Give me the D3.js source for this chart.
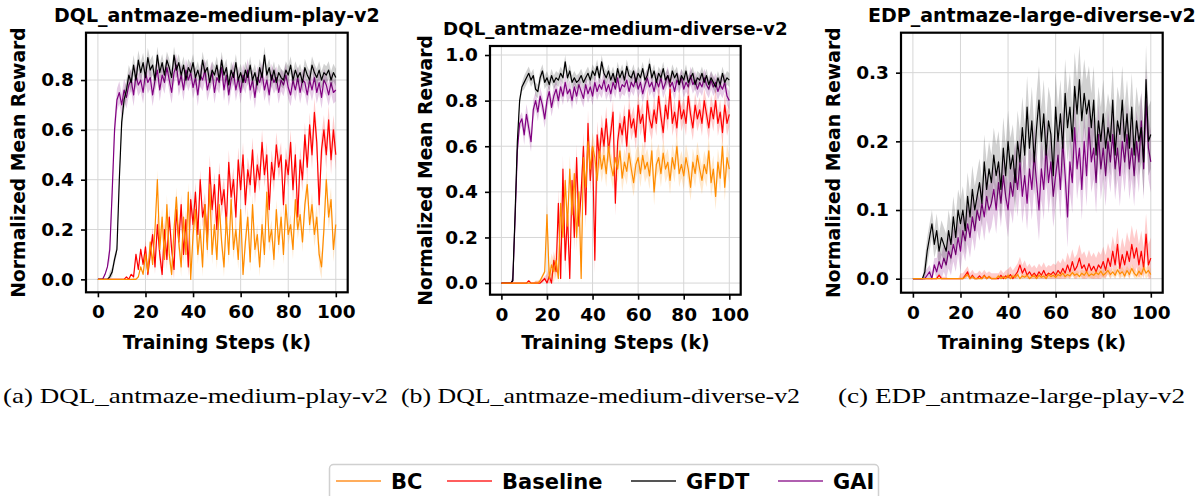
<!DOCTYPE html>
<html>
<head>
<meta charset="utf-8">
<script src="https://cdn.jsdelivr.net/npm/d3@7"></script>
<style>
  html, body { margin: 0; padding: 0; background: #fff; }
  svg { display: block; }
  .bold { font-family: "DejaVu Sans", sans-serif; font-weight: bold; }
</style>
</head>
<body>
<div id="chart"></div>
<script>
// training steps in thousands
const steps = d3.range(0, 101)
const seriesNames = ["BC", "Baseline", "GFDT", "GAI"]
const panelTitles = ["DQL_antmaze-medium-play-v2", "DQL_antmaze-medium-diverse-v2", "EDP_antmaze-large-diverse-v2"]
const captions = ["(a) DQL_antmaze-medium-play-v2", "(b) DQL_antmaze-medium-diverse-v2", "(c) EDP_antmaze-large-play-v2"]
const xTicks = [0, 20, 40, 60, 80, 100]
const yTicks1 = [0, 0.2, 0.4, 0.6, 0.8]
const yTicks2 = [0, 0.2, 0.4, 0.6, 0.8, 1.0]
const yTicks3 = [0, 0.1, 0.2, 0.3]

// ---- panel (a) ----
const p1GAI = [0,0,0,0.02,0.05,0.12,0.35,0.6,0.72,0.75,
  0.7,0.76,0.73,0.78,0.8,0.74,0.82,0.78,0.8,0.75,
  0.83,0.79,0.81,0.74,0.8,0.84,0.76,0.82,0.79,0.85,
  0.8,0.75,0.83,0.86,0.78,0.82,0.76,0.84,0.8,0.83,
  0.77,0.81,0.74,0.82,0.8,0.84,0.76,0.8,0.83,0.75,
  0.81,0.79,0.85,0.76,0.82,0.74,0.8,0.83,0.76,0.81,
  0.75,0.82,0.79,0.84,0.76,0.8,0.73,0.81,0.79,0.83,
  0.76,0.8,0.74,0.82,0.79,0.81,0.75,0.8,0.78,0.82,
  0.77,0.74,0.8,0.76,0.81,0.75,0.8,0.79,0.74,0.8,
  0.76,0.81,0.75,0.79,0.73,0.8,0.78,0.74,0.79,0.75,
  0.76]
const p1GFDT = [0,0,0,0,0,0.01,0.03,0.08,0.12,0.4,
  0.63,0.72,0.76,0.82,0.79,0.86,0.8,0.88,0.83,0.87,
  0.81,0.89,0.84,0.86,0.8,0.9,0.83,0.87,0.82,0.88,
  0.85,0.81,0.9,0.84,0.87,0.82,0.86,0.8,0.85,0.83,
  0.87,0.81,0.84,0.8,0.88,0.83,0.85,0.79,0.84,0.82,
  0.86,0.8,0.88,0.82,0.85,0.78,0.84,0.81,0.87,0.8,
  0.83,0.79,0.84,0.81,0.86,0.8,0.83,0.78,0.85,0.81,
  0.9,0.82,0.85,0.8,0.84,0.79,0.83,0.81,0.8,0.84,
  0.82,0.86,0.8,0.84,0.81,0.83,0.79,0.85,0.82,0.8,
  0.86,0.83,0.81,0.84,0.8,0.83,0.82,0.84,0.8,0.83,
  0.81]
const p1Baseline = [0,0,0,0,0,0,0,0,0,0,
  0,0,0.01,0,0.02,0.01,0.1,0.04,0.12,0.06,
  0.13,0.02,0.1,0.18,0.05,0.22,0.1,0.02,0.2,0.08,
  0.25,0.12,0.04,0.28,0.15,0.3,0.1,0.24,0.05,0.32,
  0.22,0.35,0.18,0.4,0.25,0.3,0.15,0.45,0.28,0.38,
  0.2,0.42,0.3,0.36,0.22,0.47,0.33,0.4,0.25,0.48,
  0.36,0.5,0.3,0.44,0.38,0.52,0.35,0.46,0.4,0.55,
  0.42,0.5,0.28,0.47,0.4,0.54,0.45,0.5,0.3,0.48,
  0.42,0.55,0.36,0.5,0.25,0.48,0.4,0.58,0.45,0.62,
  0.5,0.67,0.55,0.3,0.52,0.6,0.5,0.64,0.48,0.6,
  0.5]
const p1BC = [0,0,0,0,0,0,0,0,0,0,
  0,0,0,0,0,0,0,0.01,0.05,0.02,
  0.1,0.03,0.15,0.06,0.2,0.4,0.12,0.25,0.08,0.3,
  0.1,0.02,0.2,0.33,0.15,0.05,0.25,0.1,0.35,0,
  0.18,0.28,0.1,0.2,0.05,0.3,0.12,0.38,0.1,0.22,
  0.08,0.3,0.15,0.05,0.25,0.1,0.32,0.12,0.2,0.08,
  0.28,0.02,0.15,0.25,0.07,0.3,0.12,0.18,0.05,0.22,
  0.1,0.35,0.15,0.2,0.08,0.28,0.14,0.25,0.1,0.3,
  0.18,0.22,0.12,0.32,0.2,0.26,0.15,0.3,0.38,0.22,
  0.3,0.18,0.25,0.1,0.05,0.2,0.4,0.25,0.32,0.12,
  0.22]
// spread, one value per 5k block
const p1BCStd = [0,0,0,0.005,0.02,0.04,0.04,0.04,0.04,0.04,0.04,0.04,0.04,0.04,0.04,0.04,0.04,0.04,0.05,0.05,0.05]
const p1BaselineStd = [0,0,0,0.01,0.03,0.04,0.04,0.04,0.04,0.05,0.05,0.05,0.05,0.05,0.05,0.05,0.05,0.05,0.06,0.06,0.06]
const p1GFDTStd = [0,0.02,0.04,0.04,0.04,0.035,0.035,0.035,0.035,0.035,0.035,0.035,0.035,0.035,0.035,0.035,0.035,0.035,0.035,0.035,0.035]
const p1GAIStd = [0.005,0.045,0.045,0.045,0.045,0.045,0.045,0.045,0.045,0.045,0.045,0.045,0.045,0.045,0.045,0.045,0.045,0.045,0.045,0.045,0.045]

// ---- panel (b) ----
const p2GFDT = [0,0,0,0,0,0.01,0.3,0.62,0.8,0.86,
  0.88,0.9,0.92,0.89,0.91,0.85,0.84,0.9,0.93,0.88,
  0.9,0.87,0.91,0.88,0.9,0.89,0.92,0.9,0.97,0.9,
  0.93,0.88,0.9,0.88,0.89,0.91,0.88,0.9,0.92,0.89,
  0.93,0.91,0.95,0.9,0.97,0.92,0.9,0.93,0.89,0.92,
  0.88,0.94,0.9,0.93,0.89,0.95,0.91,0.9,0.93,0.88,
  0.92,0.9,0.94,0.89,0.91,0.96,0.9,0.93,0.88,0.92,
  0.9,0.94,0.89,0.91,0.88,0.93,0.9,0.92,0.87,0.91,
  0.89,0.93,0.88,0.9,0.92,0.87,0.9,0.89,0.92,0.88,
  0.91,0.87,0.9,0.88,0.86,0.9,0.87,0.92,0.88,0.9,
  0.89]
const p2GAI = [0,0,0,0,0,0.01,0.28,0.58,0.7,0.72,
  0.65,0.74,0.68,0.62,0.76,0.8,0.75,0.82,0.78,0.72,
  0.8,0.84,0.77,0.82,0.85,0.8,0.86,0.82,0.88,0.83,
  0.85,0.8,0.86,0.82,0.87,0.84,0.81,0.87,0.83,0.86,
  0.82,0.88,0.84,0.87,0.85,0.89,0.84,0.87,0.83,0.88,
  0.85,0.9,0.84,0.87,0.86,0.89,0.84,0.88,0.86,0.9,
  0.85,0.88,0.83,0.87,0.9,0.86,0.88,0.84,0.89,0.86,
  0.9,0.85,0.88,0.91,0.86,0.88,0.84,0.89,0.87,0.9,
  0.85,0.88,0.86,0.91,0.87,0.89,0.85,0.88,0.86,0.9,
  0.87,0.85,0.89,0.86,0.88,0.84,0.87,0.85,0.88,0.82,
  0.8]
const p2Baseline = [0,0,0,0,0,0,0,0,0,0,
  0,0,0.01,0,0,0,0,0,0.01,0.02,
  0,0.03,0,0.1,0.05,0.35,0.02,0.5,0.1,0.3,
  0.02,0.45,0.2,0.55,0.25,0.4,0.6,0.3,0.7,0.45,
  0.6,0.1,0.65,0.55,0.68,0.6,0.72,0.58,0.66,0.75,
  0.35,0.62,0.7,0.65,0.73,0.6,0.76,0.68,0.72,0.64,
  0.78,0.7,0.74,0.62,0.8,0.72,0.68,0.76,0.7,0.82,
  0.73,0.66,0.78,0.72,0.85,0.7,0.75,0.68,0.8,0.72,
  0.76,0.7,0.82,0.74,0.68,0.78,0.72,0.76,0.7,0.8,
  0.74,0.68,0.77,0.72,0.8,0.7,0.75,0.66,0.78,0.7,
  0.74]
const p2BC = [0,0,0,0,0,0,0,0,0,0,
  0,0,0,0,0,0,0,0.01,0.03,0.05,
  0.3,0.02,0.08,0.05,0.1,0.02,0.35,0.2,0.45,0.25,
  0.5,0.3,0.48,0.2,0.4,0.02,0.55,0.42,0.62,0.5,
  0.6,0.55,0.45,0.58,0.5,0.56,0.48,0.6,0.52,0.47,
  0.55,0.5,0.58,0.46,0.53,0.49,0.57,0.5,0.44,0.52,
  0.55,0.48,0.56,0.5,0.53,0.47,0.58,0.4,0.52,0.55,
  0.48,0.57,0.5,0.53,0.45,0.55,0.5,0.6,0.48,0.52,
  0.47,0.55,0.5,0.42,0.53,0.48,0.56,0.5,0.45,0.52,
  0.48,0.58,0.44,0.5,0.38,0.53,0.46,0.6,0.42,0.55,
  0.5]
const p2BCStd = [0,0,0,0.01,0.05,0.06,0.06,0.06,0.06,0.06,0.06,0.06,0.06,0.06,0.06,0.06,0.06,0.06,0.06,0.06,0.06]
const p2BaselineStd = [0,0,0,0.01,0.04,0.06,0.06,0.06,0.06,0.055,0.055,0.055,0.055,0.055,0.055,0.055,0.055,0.055,0.055,0.055,0.055]
const p2GFDTStd = [0,0.02,0.03,0.03,0.03,0.03,0.03,0.03,0.03,0.03,0.03,0.03,0.03,0.03,0.03,0.03,0.03,0.03,0.03,0.03,0.03]
const p2GAIStd = [0,0.03,0.045,0.04,0.04,0.04,0.04,0.04,0.04,0.04,0.04,0.04,0.04,0.04,0.04,0.04,0.04,0.04,0.04,0.04,0.04]

// ---- panel (c) ----
const p3GFDT = [0,0,0,0,0,0.01,0.04,0.06,0.08,0.05,
  0.07,0.04,0.06,0.05,0.04,0.07,0.05,0.09,0.06,0.1,
  0.08,0.1,0.07,0.12,0.09,0.13,0.1,0.12,0.14,0.11,
  0.17,0.13,0.16,0.14,0.18,0.15,0.17,0.13,0.19,0.15,
  0.2,0.16,0.18,0.14,0.2,0.17,0.22,0.18,0.25,0.19,
  0.23,0.17,0.22,0.26,0.2,0.24,0.18,0.23,0.21,0.15,
  0.25,0.2,0.24,0.19,0.27,0.22,0.25,0.2,0.28,0.24,
  0.29,0.23,0.27,0.24,0.26,0.22,0.26,0.18,0.23,0.2,
  0.24,0.19,0.22,0.2,0.26,0.18,0.23,0.21,0.26,0.2,
  0.24,0.19,0.25,0.18,0.23,0.2,0.22,0.17,0.29,0.2,
  0.21]
const p3GAI = [0,0,0,0,0,0,0.005,0.01,0,0.02,
  0.01,0.025,0.015,0.03,0.02,0.04,0.03,0.05,0.035,0.06,
  0.04,0.07,0.055,0.08,0.06,0.09,0.07,0.1,0.085,0.11,
  0.09,0.12,0.1,0.11,0.13,0.1,0.14,0.11,0.15,0.12,
  0.1,0.14,0.12,0.16,0.13,0.17,0.12,0.15,0.11,0.16,
  0.13,0.18,0.14,0.1,0.16,0.13,0.19,0.14,0.17,0.12,
  0.15,0.18,0.13,0.2,0.15,0.09,0.17,0.14,0.22,0.16,
  0.19,0.13,0.2,0.15,0.22,0.17,0.19,0.14,0.21,0.16,
  0.19,0.15,0.2,0.17,0.21,0.16,0.19,0.15,0.2,0.17,
  0.21,0.16,0.19,0.15,0.2,0.17,0.23,0.16,0.26,0.19,
  0.17]
const p3Baseline = [0,0,0,0,0,0,0,0,0,0,
  0,0.005,0,0,0,0,0,0,0,0,
  0,0,0.005,0.01,0,0.005,0,0,0.004,0,
  0.005,0,0.003,0,0,0,0,0.005,0,0.004,
  0.002,0.006,0,0.005,0.01,0.02,0.008,0.015,0.005,0.01,
  0.004,0.008,0.003,0.01,0.005,0.012,0.004,0.008,0.006,0.01,
  0.005,0.012,0.007,0.015,0.008,0.02,0.01,0.025,0.012,0.018,
  0.03,0.015,0.02,0.01,0.022,0.012,0.018,0.01,0.02,0.015,
  0.025,0.012,0.03,0.018,0.04,0.02,0.05,0.015,0.035,0.02,
  0.04,0.025,0.05,0.03,0.045,0.02,0.04,0.015,0.065,0.02,
  0.03]
const p3BC = [0,0,0,0,0,0,0,0,0,0,
  0,0,0,0,0,0,0,0,0,0,
  0,0,0.003,0.006,0,0.003,0,0,0,0,
  0.004,0,0.003,0,0,0,0.004,0,0.003,0,
  0.005,0,0.004,0.002,0.006,0,0.004,0.002,0.005,0,
  0.003,0.004,0,0.005,0.002,0.004,0,0.006,0.003,0.005,
  0.002,0.006,0.004,0.008,0.003,0.006,0.004,0.009,0.005,0.007,
  0.003,0.008,0.005,0.01,0.004,0.007,0.005,0.009,0.006,0.011,
  0.005,0.008,0.012,0.006,0.01,0.005,0.013,0.007,0.01,0.004,
  0.012,0.006,0.015,0.008,0.004,0.011,0.006,0.016,0.008,0.012,
  0.006]
const p3BCStd = [0,0,0,0,0.003,0.003,0.003,0.003,0.004,0.004,0.004,0.004,0.005,0.005,0.006,0.006,0.006,0.007,0.007,0.008,0.008]
const p3BaselineStd = [0,0,0.003,0,0.008,0.008,0.008,0.008,0.012,0.012,0.012,0.012,0.015,0.018,0.02,0.02,0.022,0.025,0.028,0.03,0.03]
const p3GFDTStd = [0,0.02,0.025,0.03,0.035,0.035,0.04,0.045,0.045,0.045,0.05,0.05,0.05,0.05,0.05,0.05,0.05,0.05,0.05,0.05,0.05]
const p3GAIStd = [0,0.01,0.02,0.025,0.03,0.03,0.035,0.035,0.04,0.04,0.045,0.045,0.045,0.045,0.045,0.045,0.045,0.045,0.045,0.045,0.045]

const colours = { BC: "#ff8c00", Baseline: "#ff0000", GFDT: "#000000", GAI: "#800080" }
const legendColours = { BC: "#ffad5c", Baseline: "#ff5e5e", GFDT: "#555555", GAI: "#b05fb0" }

const panels = [
  { title: panelTitles[0], titleSize: 19, left: 86, top: 32.7, width: 261.7, height: 259.6, yDomain: [-0.052, 0.99], yTicks: yTicks1,
    titleY: 21.5, yLabelX: 24.5,
    mean: { BC: p1BC, Baseline: p1Baseline, GFDT: p1GFDT, GAI: p1GAI },
    std: { BC: p1BCStd, Baseline: p1BaselineStd, GFDT: p1GFDTStd, GAI: p1GAIStd } },
  { title: panelTitles[1], titleSize: 18.2, left: 490, top: 46, width: 250.7, height: 248.7, yDomain: [-0.051, 1.0395], yTicks: yTicks2,
    titleY: 35, yLabelX: 431.5,
    mean: { BC: p2BC, Baseline: p2Baseline, GFDT: p2GFDT, GAI: p2GAI },
    std: { BC: p2BCStd, Baseline: p2BaselineStd, GFDT: p2GFDTStd, GAI: p2GAIStd } },
  { title: panelTitles[2], titleSize: 19, left: 901, top: 32.7, width: 261.7, height: 260, yDomain: [-0.0204, 0.3582], yTicks: yTicks3,
    titleY: 21.5, yLabelX: 840,
    mean: { BC: p3BC, Baseline: p3Baseline, GFDT: p3GFDT, GAI: p3GAI },
    std: { BC: p3BCStd, Baseline: p3BaselineStd, GFDT: p3GFDTStd, GAI: p3GAIStd } },
]

const svg = d3.select("#chart").append("svg")
  .attr("width", 1202).attr("height", 496)
  .attr("viewBox", "0 0 1202 496")

svg.append("rect").attr("width", 1202).attr("height", 496).attr("fill", "#fff")

// drawn bottom to top
const drawOrder = ["GAI", "GFDT", "Baseline", "BC"]

panels.forEach((p, pi) => {
  const x = d3.scaleLinear().domain([-5, 105]).range([p.left, p.left + p.width])
  const y = d3.scaleLinear().domain(p.yDomain).range([p.top + p.height, p.top])
  const g = svg.append("g")

  const clipId = "clip" + pi
  svg.append("clipPath").attr("id", clipId)
    .append("rect").attr("x", p.left).attr("y", p.top).attr("width", p.width).attr("height", p.height)

  // grid
  g.append("g").selectAll("line").data(xTicks).join("line")
    .attr("x1", (d) => x(d)).attr("x2", (d) => x(d))
    .attr("y1", p.top).attr("y2", p.top + p.height)
    .attr("stroke", "#d6d6d6").attr("stroke-width", 1)
  g.append("g").selectAll("line").data(p.yTicks).join("line")
    .attr("x1", p.left).attr("x2", p.left + p.width)
    .attr("y1", (d) => y(d)).attr("y2", (d) => y(d))
    .attr("stroke", "#d6d6d6").attr("stroke-width", 1)

  const plot = g.append("g").attr("clip-path", "url(#" + clipId + ")")

  drawOrder.forEach((name) => {
    const m = p.mean[name]
    const s = p.std[name]
    const rows = steps.map((t, i) => ({ t: t, m: m[i], s: s[Math.floor(i / 5)] }))
    const area = d3.area()
      .x((d) => x(d.t))
      .y0((d) => y(Math.max(0, d.m - d.s)))
      .y1((d) => y(d.m + d.s))
    plot.append("path").datum(rows)
      .attr("d", area)
      .attr("fill", colours[name])
      .attr("fill-opacity", name === "GFDT" ? 0.18 : 0.2)
    plot.append("path").datum(rows)
      .attr("d", d3.line().x((d) => x(d.t)).y((d) => y(d.m)))
      .attr("fill", "none")
      .attr("stroke", colours[name])
      .attr("stroke-width", 1.2)
      .attr("stroke-linejoin", "round")
  })

  // axes
  const xAxis = g.append("g")
    .attr("transform", "translate(0," + (p.top + p.height) + ")")
    .call(d3.axisBottom(x).tickValues(xTicks).tickSize(5).tickPadding(8).tickFormat(d3.format("d")))
  const yAxis = g.append("g")
    .attr("transform", "translate(" + p.left + ",0)")
    .call(d3.axisLeft(y).tickValues(p.yTicks).tickSize(5).tickPadding(7).tickFormat(d3.format(".1f")))
  ;[xAxis, yAxis].forEach((ax) => {
    ax.select(".domain").remove()
    ax.selectAll(".tick line").attr("stroke", "#000").attr("stroke-width", 1.6)
    ax.selectAll(".tick text")
      .attr("class", "bold")
      .attr("font-size", 18.5)
      .attr("fill", "#000")
  })

  g.append("rect")
    .attr("x", p.left).attr("y", p.top).attr("width", p.width).attr("height", p.height)
    .attr("fill", "none").attr("stroke", "#000").attr("stroke-width", 2.2)

  g.append("text").attr("class", "bold")
    .attr("x", p.left + p.width / 2).attr("y", p.titleY)
    .attr("text-anchor", "middle").attr("font-size", p.titleSize)
    .text(p.title)

  g.append("text").attr("class", "bold")
    .attr("x", p.left + p.width / 2).attr("y", 348.5)
    .attr("text-anchor", "middle").attr("font-size", 18.8)
    .text("Training Steps (k)")

  g.append("text").attr("class", "bold")
    .attr("transform", "translate(" + p.yLabelX + "," + (p.top + p.height / 2) + ") rotate(-90)")
    .attr("text-anchor", "middle").attr("font-size", 18.8)
    .text("Normalized Mean Reward")
})

// sub-figure captions
const captionX = [3, 401, 838]
const captionW = [385, 399, 347]
svg.append("g").selectAll("text").data(captions).join("text")
  .attr("x", (d, i) => captionX[i]).attr("y", 403)
  .attr("font-family", "Liberation Serif, serif")
  .attr("font-size", 22)
  .attr("textLength", (d, i) => captionW[i])
  .attr("lengthAdjust", "spacingAndGlyphs")
  .attr("fill", "#000")
  .text((d) => d)

// legend
const legend = svg.append("g")
legend.append("rect")
  .attr("x", 329.5).attr("y", 464.5).attr("width", 549).attr("height", 45).attr("rx", 4)
  .attr("fill", "#fff").attr("stroke", "#d0d0d0").attr("stroke-width", 1.5)
const legendX = [336, 447, 631, 778]
const items = legend.selectAll("g.item").data(seriesNames).join("g")
  .attr("transform", (d, i) => "translate(" + legendX[i] + ",481)")
items.append("line").attr("x1", 0).attr("x2", 45).attr("y1", 0).attr("y2", 0)
  .attr("stroke", (d) => legendColours[d]).attr("stroke-width", 2)
items.append("text").attr("class", "bold")
  .attr("x", 55).attr("y", 7.5).attr("font-size", 21)
  .text((d) => d)
</script>
</body>
</html>
